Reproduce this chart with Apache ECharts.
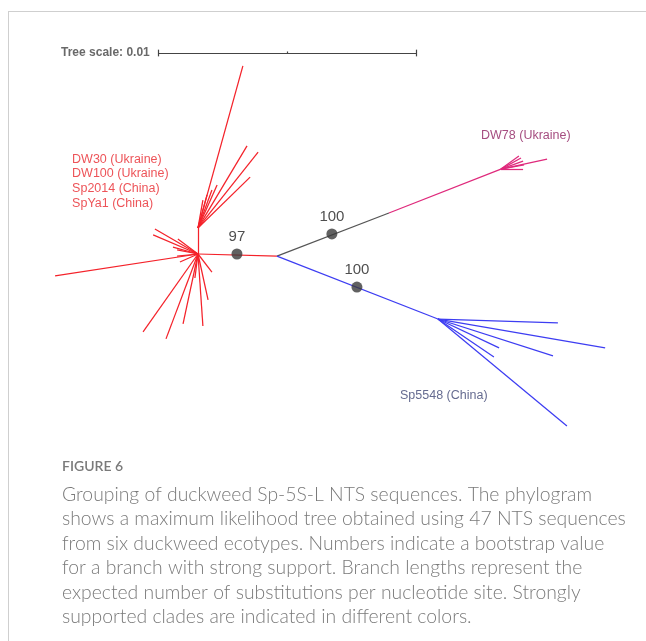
<!DOCTYPE html>
<html><head><meta charset="utf-8">
<script src="https://cdn.jsdelivr.net/npm/echarts@6/dist/echarts.min.js"></script>
<style>html,body{margin:0;padding:0;background:#fff}#c{width:646px;height:641px}</style>
</head><body><div id="c"></div>
<script>
// Tree coordinates in units of 0.0001 substitutions/site (scale bar 0.01 = 100 units)
const hubRed = [0, 0];
const hubRedUpper = [0, 10.1];
const junction = [30.6, -0.8];
const grayPinkBreak = [74.0, 15.9];
const hubPink = [117.4, 32.9];
const hubBlue = [93.0, -25.2];

const redHubLeaves = [[-55.4,-8.5],[-16.7,9.7],[-17.4,7.4],[-7.8,5.8],[-9.7,2.7],[-8.1,1.6],[-8.1,-0.8],[-7.0,-3.1],
  [-21.3,-30.2],[-12.4,-32.9],[-5.8,-27.1],[1.9,-27.9],[3.9,-17.8],[5.4,-7.0],[-1.2,-9.3]];
const redUpperLeaves = [[17.4,72.9],[19.0,41.9],[23.3,39.5],[20.2,29.8],[7.4,26.7],[5.4,24.8],[3.5,22.9],[1.9,20.9]];
const pinkLeaves = [[124.4,38.0],[125.2,37.2],[126.0,36.0],[126.4,34.5],[126.0,32.9],[135.3,36.8]];
const blueLeaves = [[139.5,-26.7],[157.8,-36.4],[137.6,-39.5],[116.7,-36.4],[114.7,-39.9],[143.0,-66.7]];

const bootstrapPoints = [[15.1, 0], [51.9, 7.8], [61.6, -12.8]];
const bootstrapValues = ['97', '100', '100'];

const redLabels = ['DW30 (Ukraine)', 'DW100 (Ukraine)', 'Sp2014 (China)', 'SpYa1 (China)'];
const redLabelPos = [[-48.8, 36.8], [-48.8, 31.2], [-48.8, 25.4], [-48.8, 19.6]];
const pinkLabel = 'DW78 (Ukraine)';
const pinkLabelPos = [109.7, 46.1];
const blueLabel = 'Sp5548 (China)';
const blueLabelPos = [78.3, -55.0];

const scaleBarStart = [-15.5, 77.9];
const scaleBarLength = 100; // = 0.01
const scaleText = 'Tree scale: 0.01';

const caption = [
  'Grouping of duckweed Sp-5S-L NTS sequences. The phylogram',
  'shows a maximum likelihood tree obtained using 47 NTS sequences',
  'from six duckweed ecotypes. Numbers indicate a bootstrap value',
  'for a branch with strong support. Branch lengths represent the',
  'expected number of substitutions per nucleotide site. Strongly',
  'supported clades are indicated in different colors.'
];

const RED = '#f4222a', PINK = '#df2a7c', GRAY = '#555555', BLUE = '#3d3df2';

function seg(a, b, color) { return { coords: [a, b], lineStyle: { color: color } }; }
const branches = [];
redHubLeaves.forEach(p => branches.push(seg(hubRed, p, RED)));
branches.push(seg(hubRed, hubRedUpper, RED));
redUpperLeaves.forEach(p => branches.push(seg(hubRedUpper, p, RED)));
branches.push(seg(hubRed, junction, RED));
branches.push(seg(junction, grayPinkBreak, GRAY));
branches.push(seg(grayPinkBreak, hubPink, PINK));
pinkLeaves.forEach(p => branches.push(seg(hubPink, p, PINK)));
branches.push(seg(junction, hubBlue, BLUE));
blueLeaves.forEach(p => branches.push(seg(hubBlue, p, BLUE)));

const sx = scaleBarStart[0], sy = scaleBarStart[1];
const tick = 1.3;
const scaleSegs = [
  seg([sx, sy], [sx + scaleBarLength, sy], '#444'),
  seg([sx, sy - tick], [sx, sy + tick], '#444'),
  seg([sx + scaleBarLength, sy - tick], [sx + scaleBarLength, sy + tick], '#444'),
  seg([sx + scaleBarLength / 2, sy], [sx + scaleBarLength / 2, sy + 0.6], '#444')
];

function textPoints(pos, texts, color, size) {
  return pos.map((p, i) => ({ value: p, label: { show: true, formatter: texts[i], color: color, fontSize: size } }));
}

const chart = echarts.init(document.getElementById('c'), null, { renderer: 'canvas' });
const W = 646, H = 641, PX = 2.58, ox = 198, oy = 254;
chart.setOption({
  animation: false,
  grid: { left: 0, right: 0, top: 0, bottom: 0 },
  xAxis: { type: 'value', min: -ox / PX, max: (W - ox) / PX, show: false },
  yAxis: { type: 'value', min: -(H - oy) / PX, max: oy / PX, show: false },
  graphic: [
    { type: 'line', shape: { x1: 8, y1: 11.5, x2: 646, y2: 11.5 }, style: { stroke: '#cfcfcf', lineWidth: 1 } },
    { type: 'line', shape: { x1: 8.5, y1: 11, x2: 8.5, y2: 641 }, style: { stroke: '#cfcfcf', lineWidth: 1 } },
    { type: 'text', left: 62, top: 459, style: { text: 'FIGURE 6', font: '600 14px Lato', fill: '#7a7a7a' } },
    { type: 'text', left: 62, top: 482, style: { text: caption.join('\n'), font: '300 19.35px Lato', lineHeight: 24.5, fill: '#7a7a7a' } }
  ],
  series: [
    { type: 'lines', coordinateSystem: 'cartesian2d', polyline: false, silent: true,
      lineStyle: { width: 1.25, opacity: 1 }, data: branches, zlevel: 0 },
    { type: 'lines', coordinateSystem: 'cartesian2d', silent: true,
      lineStyle: { width: 1.2, opacity: 1 }, data: scaleSegs },
    { type: 'scatter', symbolSize: 11, itemStyle: { color: '#3a3a3a' }, z: 5,
      data: bootstrapPoints.map((p, i) => ({ value: p, label: { show: true, formatter: bootstrapValues[i] } })),
      label: { position: 'top', distance: 4, color: '#222', fontSize: 15, fontFamily: 'Liberation Sans' } },
    { type: 'scatter', symbolSize: 0, silent: true,
      label: { show: true, position: [0, 0], align: 'left', verticalAlign: 'middle', fontFamily: 'Liberation Sans' },
      data: [].concat(
        textPoints(redLabelPos, redLabels, '#e8282e', 12.5),
        textPoints([pinkLabelPos], [pinkLabel], '#8e2060', 12.5),
        textPoints([blueLabelPos], [blueLabel], '#3e4674', 12.5),
        [{ value: [sx - 3.2, sy], label: { show: true, formatter: scaleText, align: 'right', color: '#444', fontSize: 12, fontWeight: 'bold', fontFamily: 'Liberation Sans Narrow, Liberation Sans' } }]
      ) }
  ]
});
</script></body></html>
